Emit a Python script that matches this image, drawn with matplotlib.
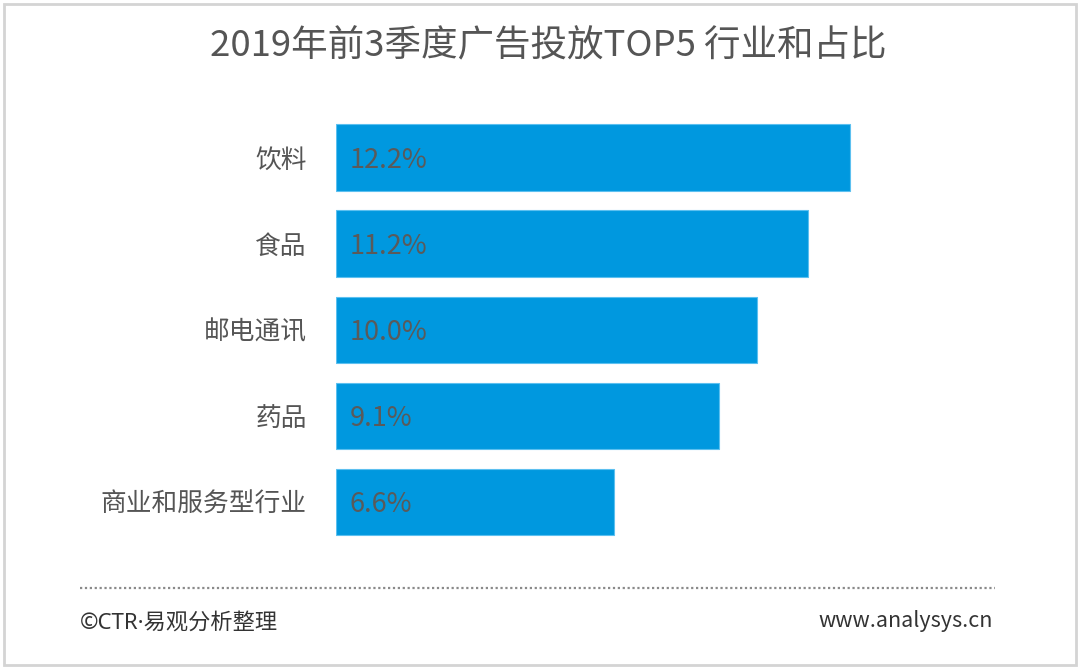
import matplotlib
matplotlib.use('Agg')
from matplotlib import pyplot as plt
from matplotlib.patches import Rectangle
from matplotlib.lines import Line2D

plt.rcParams['font.family'] = ['Noto Sans CJK SC', 'DejaVu Sans']

# 数据
industries = ['饮料', '食品', '邮电通讯', '药品', '商业和服务型行业']
shares = [12.2, 11.2, 10.0, 9.1, 6.6]
title = '2019年前3季度广告投放TOP5 行业和占比'
source = '©CTR·易观分析整理'
site = 'www.analysys.cn'

W, H = 1080, 670
fig = plt.figure(figsize=(W / 100, H / 100), dpi=100)
fig.patch.set_facecolor('white')

# 外框
fig.add_artist(Rectangle((4 / W, 5 / H), 1072 / W, 661 / H, transform=fig.transFigure,
                         fill=False, edgecolor='#d4d4d4', linewidth=2))

# 坐标区：x 方向每 1% 约 42.1 像素
px_per_unit = 42.13
ax_left, ax_right = 336, 1000
ax_top, ax_bottom = 114.4, 545.2
ax = fig.add_axes([ax_left / W, 1 - ax_bottom / H, (ax_right - ax_left) / W, (ax_bottom - ax_top) / H])
ax.set_xlim(0, (ax_right - ax_left) / px_per_unit)
ax.set_ylim(len(industries) - 0.5, -0.5)

ypos = list(range(len(industries)))
ax.barh(ypos, shares, height=0.77, color='#0098df', edgecolor='#5cc0f0', linewidth=0.8)

for y, v in zip(ypos, shares):
    ax.text(0.33, y + 0.03, f'{v:.1f}%', va='center', ha='left', fontsize=19.5, color='#5a5a5a')

ax.set_yticks(ypos)
ax.set_yticklabels(industries, fontsize=18.5, color='#555555')
ax.tick_params(axis='y', length=0, pad=21)
ax.set_xticks([])
for s in ax.spines.values():
    s.set_visible(False)

# 标题
fig.text(548 / W, 1 - 46 / H, title, ha='center', va='center', fontsize=26.3, color='#555555')

# 虚线
fig.add_artist(Line2D([80 / W, 995 / W], [1 - 588 / H, 1 - 588 / H], transform=fig.transFigure,
                      color='#8a8a8a', linewidth=1.6, linestyle=(0, (1, 1.2))))

# 页脚
fig.text(80 / W, 1 - 623 / H, source, ha='left', va='center', fontsize=16, color='#333333',
         family=['Noto Sans', 'Noto Sans CJK SC'])
fig.text(993 / W, 1 - 621 / H, site, ha='right', va='center', fontsize=15.5, color='#333333')

plt.savefig('out.png', dpi=100)
